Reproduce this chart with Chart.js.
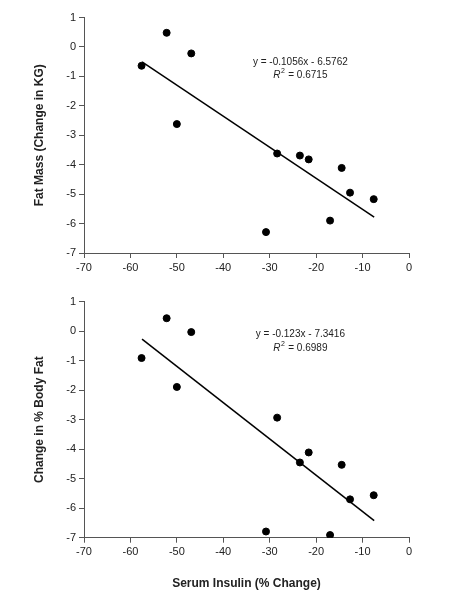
<!DOCTYPE html>
<html><head><meta charset="utf-8">
<script src="https://cdn.jsdelivr.net/npm/chart.js@4"></script>
<style>body{margin:0;background:#fff}#a{position:absolute;left:0;top:0;width:450px;height:290px}#b{position:absolute;left:0;top:290px;width:450px;height:305px}</style>
</head><body>
<div id="a"><canvas id="c1"></canvas></div>
<div id="b"><canvas id="c2"></canvas></div>
<script>
const insulin = [-57.6,-52.2,-46.9,-50.0,-28.4,-23.5,-21.6,-14.5,-12.7,-7.6,-17.0,-30.8];
const fatMass = [-0.64,0.48,-0.22,-2.62,-3.62,-3.69,-3.82,-4.11,-4.95,-5.17,-5.90,-6.29];
const bodyFatX = [-57.6,-52.2,-46.9,-50.0,-28.4,-23.5,-21.6,-14.5,-12.7,-7.6,-30.8,-17.0];
const bodyFat = [-0.91,0.44,-0.03,-1.89,-2.93,-4.45,-4.11,-4.53,-5.70,-5.56,-6.79,-6.91];
const xTicks = [-70,-60,-50,-40,-30,-20,-10,0];
const yTicks = [1,0,-1,-2,-3,-4,-5,-6,-7];
const fit1 = {m:-0.1056,b:-6.5762,x0:-57.5,x1:-7.5,eq:'y = -0.1056x - 6.5762',r2:'0.6715'};
const fit2 = {m:-0.123,b:-7.3416,x0:-57.5,x1:-7.5,eq:'y = -0.123x - 7.3416',r2:'0.6989'};
const F='"Liberation Sans", Arial, sans-serif';
function make(id,xs,ys,fit,yTitle,xTitle,top,xh,eqY,r2Y){
  const pts=xs.map((x,i)=>({x,y:ys[i]}));
  const line=[{x:fit.x0,y:fit.m*fit.x0+fit.b},{x:fit.x1,y:fit.m*fit.x1+fit.b}];
  const eqPlugin={id:'eq',afterDatasetsDraw(c){const ctx=c.ctx,sx=c.scales.x,sy=c.scales.y;
    const cx=sx.getPixelForValue(-23.4);ctx.save();ctx.fillStyle='#222';ctx.textAlign='center';ctx.textBaseline='middle';
    ctx.font='10px '+F;ctx.fillText(fit.eq,cx,sy.getPixelForValue(eqY));
    const y2=sy.getPixelForValue(r2Y);ctx.textAlign='left';
    ctx.font='italic 10px '+F;const w1=ctx.measureText('R').width;
    ctx.font='10px '+F;const rest=' = '+fit.r2;const w2=ctx.measureText(rest).width;
    const sx0=cx-(w1+5+w2)/2;ctx.font='italic 10px '+F;ctx.fillText('R',sx0,y2);
    ctx.font='7px '+F;ctx.fillText('2',sx0+w1+0.5,y2-4);ctx.font='10px '+F;ctx.fillText(rest,sx0+w1+5,y2);ctx.restore();}};
  new Chart(document.getElementById(id),{type:'scatter',
    data:{datasets:[{data:pts,backgroundColor:'#000',borderColor:'#000',pointRadius:3.5,pointHoverRadius:3.5},
      {type:'line',data:line,borderColor:'#000',borderWidth:1.5,pointRadius:0,fill:false}]},
    options:{responsive:true,maintainAspectRatio:false,animation:false,
      layout:{padding:{left:28,right:41,top:top,bottom:0}},
      plugins:{legend:{display:false},tooltip:{enabled:false}},
      scales:{
        x:{type:'linear',min:-70,max:0,afterBuildTicks(s){s.ticks=xTicks.map(v=>({value:v}));},
          afterFit(s){s.height=xh;},
          grid:{drawOnChartArea:false,tickLength:5,color:'#555'},border:{color:'#555'},
          ticks:{color:'#222',font:{family:F,size:11},padding:3,maxRotation:0},
          title:{display:!!xTitle,text:xTitle,color:'#222',font:{family:F,size:12,weight:'bold'},padding:{top:16}}},
        y:{type:'linear',min:-7,max:1,afterBuildTicks(s){s.ticks=yTicks.map(v=>({value:v}));},
          afterFit(s){s.width=56;},
          grid:{drawOnChartArea:false,tickLength:5,color:'#555'},border:{color:'#555'},
          ticks:{color:'#222',font:{family:F,size:11},padding:3},
          title:{display:true,text:yTitle,color:'#222',font:{family:F,size:12,weight:'bold'},padding:{bottom:10}}}}},
    plugins:[eqPlugin]});
}
make('c1',insulin,fatMass,fit1,'Fat Mass (Change in KG)','',17.5,37,-0.51,-0.95);
make('c2',bodyFatX,bodyFat,fit2,'Change in % Body Fat','Serum Insulin (% Change)',11.7,57.3,-0.09,-0.57);
</script></body></html>
